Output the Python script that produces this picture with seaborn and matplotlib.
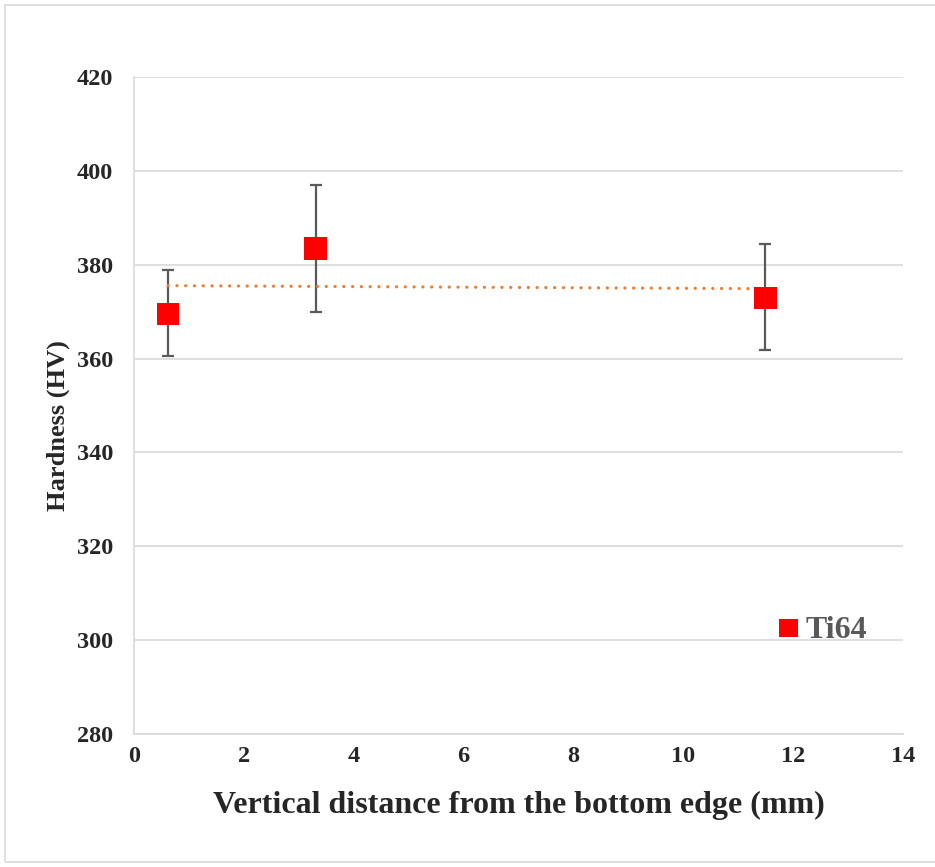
import numpy as np
import pandas as pd
import matplotlib.pyplot as plt
import seaborn as sns
from matplotlib.patches import Rectangle

# data
distance = [0.62, 3.31, 11.49]
hardness = [369.5, 383.4, 372.9]
err_low = [360.6, 369.9, 361.8]
err_high = [378.9, 397.0, 384.4]
series = 'Ti64'

df = pd.DataFrame({'x': distance, 'y': hardness})
yerr = [np.array(hardness) - np.array(err_low), np.array(err_high) - np.array(hardness)]

sns.set_style('white')
plt.rcParams['font.family'] = ['Liberation Serif', 'DejaVu Serif']
plt.rcParams['font.weight'] = 'bold'

fig = plt.figure(figsize=(9.35, 8.67), dpi=100)
ax = fig.add_axes([134/935, 1 - 734/867, (903-134)/935, (734-77)/867])

fig.patches.append(Rectangle((5/935, 5/867), 1.0, 857/867, transform=fig.transFigure,
                             fill=False, edgecolor='#d9d9d9', linewidth=1.2))

ax.errorbar(distance, hardness, yerr=yerr, fmt='none', ecolor='#595959',
            elinewidth=1.6, capsize=4.5, capthick=1.6, zorder=2)

# linear trendline
coef = np.polyfit(distance, hardness, 1)
tx = np.array([min(distance), max(distance)])
ax.plot(tx, np.polyval(coef, tx), color='#ED7D31', linestyle=(0, (0.05, 2.7)),
        linewidth=2.3, dash_capstyle='round', zorder=3)

sns.scatterplot(data=df, x='x', y='y', ax=ax, marker='s', s=270, color='#FF0000',
                edgecolor='none', zorder=4, legend=False)

ax.set_xlim(0, 14)
ax.set_ylim(280, 420)
ax.set_xticks(range(0, 15, 2))
ax.set_yticks(range(280, 421, 20))
ax.grid(axis='y', color='#d9d9d9', linewidth=1.2)
for s in ['top', 'right']:
    ax.spines[s].set_visible(False)
ax.spines['left'].set_color('#d9d9d9')
ax.spines['bottom'].set_color('#d9d9d9')
ax.spines['left'].set_linewidth(1.2)
ax.spines['bottom'].set_linewidth(1.2)
ax.tick_params(length=0, labelsize=17.5)
ax.tick_params(axis='x', pad=9)
ax.tick_params(axis='y', pad=15)
for lab in ax.get_xticklabels() + ax.get_yticklabels():
    lab.set_fontweight('bold')

ax.set_xlabel('Vertical distance from the bottom edge (mm)', fontsize=23,
              fontweight='bold', labelpad=17)
ax.set_ylabel('Hardness (HV)', fontsize=19, fontweight='bold')
ax.yaxis.set_label_coords(-0.083, 0.469)

# legend inside plot
ax.scatter([11.92], [302.6], marker='s', s=180, color='#FF0000', edgecolor='none')
ax.text(12.22, 302.0, series, fontsize=23, fontweight='bold', color='#595959',
        va='center', ha='left')

fig.savefig('out.png', dpi=100)
